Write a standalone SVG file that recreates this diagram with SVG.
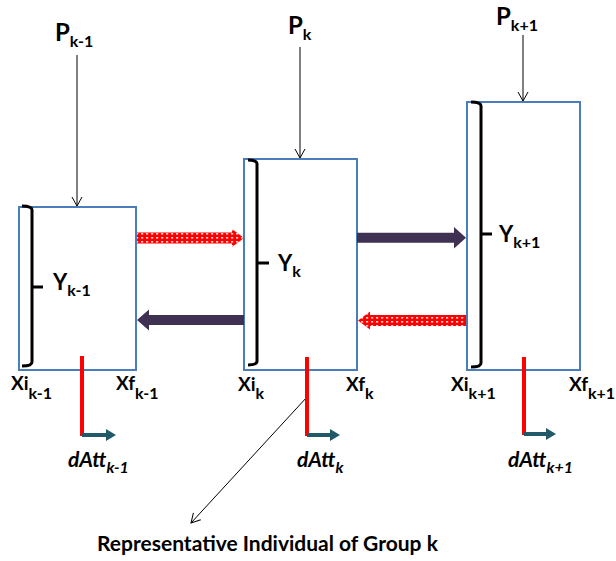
<svg xmlns="http://www.w3.org/2000/svg" width="616" height="561" viewBox="0 0 616 561">
<style>
.box{fill:#fff;stroke:#4a7ebb;stroke-width:2}
.brk{fill:none;stroke:#000;stroke-width:3;stroke-linejoin:round}
.pl{fill:none;stroke:#000;stroke-width:1}
.red{stroke:#ff0000;stroke-width:4}
.teal{fill:#215968}
.purp{fill:#3f3151}
.rp{fill:url(#dots)}
text{font-family:Lato,"Liberation Sans",Arial,sans-serif;font-weight:bold;fill:#000}
.big{font-size:24px}
.ylab{font-size:22px}
.xlab{font-size:19px}
.sub{font-size:16px}
.it{font-style:italic;font-size:21px}
.cap{font-size:21px}
</style>
<defs>
<pattern id="dots" width="5" height="4" patternUnits="userSpaceOnUse">
<rect width="5" height="4" fill="#ff0000"/>
<rect x="1" y="1.2" width="2.2" height="1.3" fill="#fff"/>
</pattern>
<marker id="vee" markerWidth="12" markerHeight="12" refX="10" refY="6" orient="auto" markerUnits="userSpaceOnUse">
<path d="M1,1 L10,6 L1,11" fill="none" stroke="#000" stroke-width="1"/>
</marker>
</defs>

<g id="group-k-1">
<rect class="box" x="19" y="207" width="117" height="163"/>
<path class="brk" d="M22,206 Q32,206 32,210 V362 Q32,366 22,366 M32,287 H43"/>
<text class="ylab" x="53" y="290">Y<tspan class="sub" dy="6">k-1</tspan></text>
<text class="big" x="55" y="41">P<tspan class="sub" dy="6">k-1</tspan></text>
<text class="xlab" x="11" y="390">Xi<tspan class="sub" dy="9">k-1</tspan></text>
<text class="xlab" x="116" y="390">Xf<tspan class="sub" dy="9">k-1</tspan></text>
<text class="it" x="68" y="467">dAtt<tspan class="sub" dy="6">k-1</tspan></text>
</g>

<g id="group-k">
<rect class="box" x="244" y="159" width="113" height="211"/>
<path class="brk" d="M248,160 Q257,160 257,164 V361 Q257,365 248,365 M257,263 H269"/>
<text class="ylab" x="278" y="271">Y<tspan class="sub" dy="6">k</tspan></text>
<text class="big" x="288" y="34">P<tspan class="sub" dy="6">k</tspan></text>
<text class="xlab" x="238" y="391">Xi<tspan class="sub" dy="8">k</tspan></text>
<text class="xlab" x="346" y="391">Xf<tspan class="sub" dy="8">k</tspan></text>
<text class="it" x="297" y="467">dAtt<tspan class="sub" dy="6">k</tspan></text>
</g>

<g id="group-k1">
<rect class="box" x="467" y="102" width="113" height="268"/>
<path class="brk" d="M471,102 Q481,102 481,106 V363 Q481,367 471,367 M481,234 H492"/>
<text class="ylab" x="499" y="242">Y<tspan class="sub" dy="6">k+1</tspan></text>
<text class="big" x="496" y="25">P<tspan class="sub" dy="6">k+1</tspan></text>
<text class="xlab" x="451" y="391">Xi<tspan class="sub" dy="8">k+1</tspan></text>
<text class="xlab" x="569" y="391">Xf<tspan class="sub" dy="8">k+1</tspan></text>
<text class="it" x="508" y="467">dAtt<tspan class="sub" dy="6">k+1</tspan></text>
</g>

<g id="representative-label">
<text class="cap" x="97" y="551">Representative Individual of Group k</text>
</g>

<g id="connectors">
<line class="pl" x1="77" y1="55" x2="77" y2="206" marker-end="url(#vee)"/>
<line class="pl" x1="300" y1="47" x2="300" y2="158" marker-end="url(#vee)"/>
<line class="pl" x1="523" y1="35" x2="523" y2="101" marker-end="url(#vee)"/>
<line class="pl" x1="307" y1="397" x2="191" y2="523" marker-end="url(#vee)"/>

<path class="rp" d="M137,232.5 H232 V229 L244,238 L232,247 V243.5 H137 Z"/>
<path class="purp" d="M357,232.7 H454 V227 L466,237.7 L454,248.5 V242.7 H357 Z"/>
<path class="purp" d="M244,315 H149 V309.5 L137,320 L149,330.5 V325 H244 Z"/>
<path class="rp" d="M466,315 H370 V311.5 L358,320.5 L370,329.5 V326 H466 Z"/>

<line class="red" x1="82" y1="356" x2="82" y2="436"/>
<line class="red" x1="307" y1="357" x2="307" y2="436"/>
<line class="red" x1="524" y1="357" x2="524" y2="435"/>

<path class="teal" d="M82,433 H106 V429 L116,435 L106,441 V437 H82 Z"/>
<path class="teal" d="M307,433 H330 V429 L340,435 L330,441 V437 H307 Z"/>
<path class="teal" d="M524,432 H546 V428 L556,434 L546,440 V436 H524 Z"/>
</g>
</svg>
